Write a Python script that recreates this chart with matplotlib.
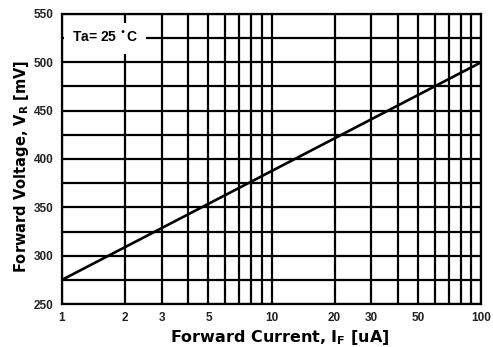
import numpy as np
import matplotlib.pyplot as plt
from matplotlib.ticker import FixedLocator, NullFormatter

plt.rcParams['font.family'] = ['Liberation Sans', 'DejaVu Sans']

# forward voltage vs forward current, Ta = 25 C
current_ua = [1, 100]
voltage_mv = [275, 500]

x_ticks = [1, 2, 3, 5, 10, 20, 30, 50, 100]
x_grid = [1, 2, 3, 4, 5, 6, 7, 8, 9, 10, 20, 30, 40, 50, 60, 70, 80, 90, 100]
y_ticks = [250, 300, 350, 400, 450, 500, 550]
y_grid = list(range(250, 551, 25))

fig = plt.figure(figsize=(4.93, 3.47), dpi=100)
ax = fig.add_axes([0.1258, 0.1239, 0.8499, 0.8358])

ax.set_xscale('log')
ax.set_xlim(1, 100)
ax.set_ylim(250, 550)

ax.xaxis.set_major_locator(FixedLocator(x_ticks))
ax.xaxis.set_minor_locator(FixedLocator([]))
ax.set_xticks(x_ticks)
ax.set_xticklabels([str(v) for v in x_ticks])
ax.xaxis.set_minor_formatter(NullFormatter())
ax.set_yticks(y_ticks)

for xv in x_grid:
    ax.axvline(xv, color='black', lw=1.6, zorder=1)
for yv in y_grid:
    ax.axhline(yv, color='black', lw=1.6, zorder=1)

ax.plot(current_ua, voltage_mv, color='black', lw=1.9, zorder=3)

ax.tick_params(length=0, labelsize=8.5, pad=6)
for lbl in ax.get_xticklabels() + ax.get_yticklabels():
    lbl.set_fontweight('bold')
    lbl.set_color('#222222')
for s in ax.spines.values():
    s.set_linewidth(1.6)

ax.text(1.12, 525, 'Ta= 25 $^{\\bullet}$C', fontsize=10, fontweight='bold',
        va='center', ha='left', zorder=4,
        bbox=dict(facecolor='white', edgecolor='none', pad=6))

ax.set_xlabel('Forward Current, I$_\\mathbf{F}$ [uA]', fontsize=11.5,
              fontweight='bold', family='DejaVu Sans')
ax.set_ylabel('Forward Voltage, V$_\\mathbf{R}$ [mV]', fontsize=10.5,
              fontweight='bold', family='DejaVu Sans')
ax.xaxis.set_label_coords(0.52, -0.082)
ax.yaxis.set_label_coords(-0.075, 0.476)

fig.savefig('out.png', dpi=100)
